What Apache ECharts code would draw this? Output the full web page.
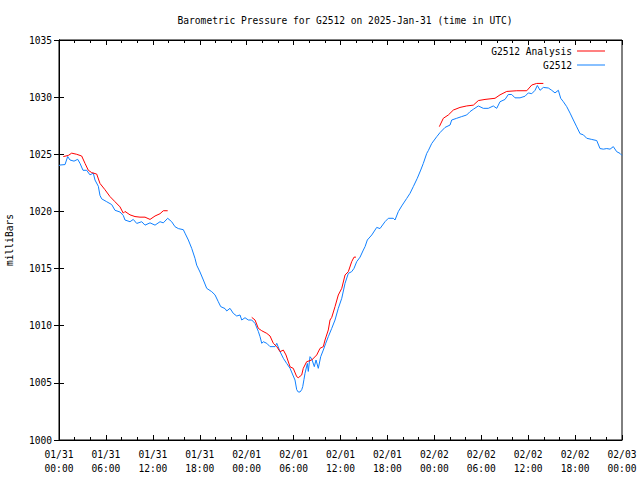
<!DOCTYPE html>
<html>
<head>
<meta charset="utf-8">
<script src="https://cdn.jsdelivr.net/npm/echarts@6/dist/echarts.min.js"></script>
<style>html,body{margin:0;padding:0;background:#fff}#c{width:640px;height:480px}</style>
</head>
<body>
<div id="c"></div>
<script>
// hours since 2025-01-31 00:00 UTC, pressure in mbar
var g2512 = [
[0,1024.0],[0.13,1024.06],[0.77,1024.1],[1.11,1024.8],[1.41,1024.5],[1.92,1024.4],[2.39,1024.56],[2.69,1024.2],
[3.07,1023.6],[3.54,1023.6],[3.96,1023.2],[4.39,1023.35],[4.60,1022.75],[5.03,1022.2],[5.24,1021.4],[5.46,1021.1],
[6.10,1020.85],[6.74,1020.6],[7.16,1020.1],[7.80,1019.95],[8.22,1019.65],[8.44,1019.25],[9.08,1019.1],[9.50,1019.3],
[9.94,1018.95],[10.58,1019.1],[11.00,1018.8],[11.64,1019.0],[12.28,1018.8],[12.92,1019.1],[13.34,1019.0],[13.90,1019.4],
[14.41,1019.1],[14.84,1018.66],[15.26,1018.5],[15.90,1018.4],[16.11,1018.1],[16.54,1017.5],[16.97,1016.77],[17.39,1015.9],
[17.61,1015.3],[18.03,1014.7],[18.46,1014.0],[18.89,1013.27],[19.53,1012.98],[19.95,1012.7],[20.37,1012.1],[20.68,1011.67],
[21.23,1011.5],[21.45,1011.29],[21.87,1011.52],[22.29,1011.08],[22.73,1010.85],[23.15,1010.94],[23.37,1010.5],[23.79,1010.7],
[24.21,1010.5],[24.65,1010.5],[25.07,1010.2],[25.49,1009.5],[25.71,1009.04],[25.93,1008.46],[26.13,1008.6],[26.57,1008.46],
[26.99,1008.17],[27.63,1008.17],[27.85,1008.46],[28.27,1007.73],[28.69,1007.15],[29.12,1006.7],[29.55,1006.27],[29.96,1005.6],
[30.18,1005.25],[30.40,1004.4],[30.60,1004.2],[30.82,1004.2],[31.04,1004.4],[31.17,1004.67],[31.33,1005.3],[31.46,1005.83],
[31.76,1006.7],[31.88,1006.0],[32.10,1007.29],[32.32,1007.1],[32.65,1006.42],[32.87,1007.0],[33.16,1006.27],[33.47,1007.29],
[33.80,1007.87],[34.11,1008.46],[34.44,1009.04],[34.88,1009.77],[35.30,1010.5],[35.72,1011.52],[36.16,1012.4],[36.58,1013.71],
[37.00,1014.58],[37.43,1014.73],[37.73,1015.02],[38.07,1015.6],[38.50,1016.0],[38.92,1016.62],[39.14,1016.92],[39.43,1017.5],
[40.00,1017.94],[40.63,1018.6],[41.05,1018.5],[41.69,1019.1],[42.12,1019.4],[42.75,1019.4],[42.97,1019.25],[43.39,1019.98],
[43.83,1020.48],[44.47,1021.14],[44.89,1021.58],[45.31,1022.17],[45.82,1022.9],[46.26,1023.62],[46.59,1024.2],[47.03,1025.08],
[47.23,1025.32],[47.67,1025.95],[48.31,1026.54],[48.73,1026.9],[49.37,1027.35],[50.01,1027.56],[50.22,1028.0],[50.86,1028.15],
[51.50,1028.3],[52.14,1028.44],[52.56,1028.73],[52.99,1028.94],[53.63,1029.23],[54.26,1029.02],[54.90,1029.02],[55.54,1029.23],
[55.98,1029.02],[56.40,1029.6],[57.04,1029.8],[57.46,1030.23],[57.90,1030.23],[58.32,1029.94],[58.96,1029.94],[59.60,1030.08],
[60.02,1030.37],[60.46,1030.3],[60.88,1030.6],[61.17,1031.02],[61.52,1030.6],[61.94,1030.85],[62.58,1030.8],[63.01,1030.6],
[63.43,1030.37],[63.86,1030.6],[64.16,1029.9],[64.50,1029.6],[64.93,1029.17],[65.36,1028.6],[65.78,1028.0],[66.21,1027.4],
[66.64,1026.8],[67.06,1026.7],[67.49,1026.4],[68.13,1026.3],[68.77,1026.2],[69.19,1025.5],[69.61,1025.45],[70.05,1025.5],
[70.47,1025.45],[70.89,1025.67],[71.32,1025.23],[71.74,1025.08],[72.0,1024.9]
];
var analysisA = [
[0.55,1024.8],[1.19,1024.9],[1.62,1025.1],[2.26,1025.0],[2.90,1024.85],[3.33,1024.2],[3.75,1023.6],[4.18,1023.4],
[4.82,1023.27],[5.24,1022.45],[5.88,1021.9],[6.52,1021.3],[7.16,1020.85],[7.80,1020.4],[8.22,1019.85],[8.44,1020.0],
[9.08,1019.7],[9.72,1019.55],[10.36,1019.5],[11.00,1019.5],[11.64,1019.3],[12.28,1019.6],[12.92,1019.8],[13.34,1020.06],[13.90,1020.06]
];
var analysisB = [
[24.65,1010.73],[25.07,1010.5],[25.49,1009.77],[25.93,1009.56],[26.57,1009.33],[26.99,1009.1],[27.41,1008.46],[27.85,1008.17],
[28.27,1007.73],[28.69,1007.87],[29.03,1007.44],[29.55,1006.4],[29.96,1006.27],[30.40,1005.54],[30.60,1005.45],[31.04,1005.69],
[31.24,1006.27],[31.67,1006.85],[32.32,1007.0],[32.96,1007.44],[33.38,1008.02],[33.80,1008.17],[34.02,1008.75],[34.44,1009.63],
[34.66,1010.5],[34.88,1010.73],[35.30,1011.67],[35.72,1012.69],[36.16,1013.27],[36.58,1014.44],[37.00,1014.73],[37.43,1015.6],
[37.73,1016.0],[37.98,1016.0]
];
var analysisC = [
[48.64,1027.42],[49.15,1028.15],[49.79,1028.44],[50.43,1028.87],[51.28,1029.1],[52.14,1029.23],[52.99,1029.3],[53.63,1029.7],
[54.48,1029.8],[55.76,1029.9],[56.40,1030.2],[57.26,1030.5],[58.54,1030.56],[59.82,1030.56],[60.46,1031.06],[61.09,1031.2],[61.94,1031.2]
];
var dateLabels = ['01/31','01/31','01/31','01/31','02/01','02/01','02/01','02/01','02/02','02/02','02/02','02/02','02/03'];
var timeLabels = ['00:00','06:00','12:00','18:00','00:00','06:00','12:00','18:00','00:00','06:00','12:00','18:00','00:00'];

var FONT = 'DejaVu Sans Mono';
var RED = '#ff0000', BLUE = '#1080ff';
var chart = echarts.init(document.getElementById('c'), null, {renderer: 'svg'});
var tickCommon = {show: true, inside: true, length: 5, lineStyle: {color: '#000', width: 1}};
var minorCommon = {show: true, splitNumber: 3, length: 3, lineStyle: {color: '#000', width: 1}};
function xAx(pos, labels) {
  return {
    type: 'value', position: pos, min: 0, max: 72, interval: 6,
    axisLine: {show: true, onZero: false, lineStyle: {color: '#000', width: 1}},
    axisTick: tickCommon, minorTick: minorCommon, splitLine: {show: false},
    axisLabel: {show: labels, margin: 7, fontFamily: FONT, fontSize: 9.6, color: '#000', lineHeight: 14,
      formatter: function (v) { var i = Math.round(v / 6); return dateLabels[i] + '\n' + timeLabels[i]; }}
  };
}
function yAx(pos, labels) {
  return {
    type: 'value', position: pos, min: 1000, max: 1035, interval: 5,
    name: labels ? 'milliBars' : '', nameLocation: 'middle', nameRotate: 90, nameGap: 45,
    nameTextStyle: {fontFamily: FONT, fontSize: 9.6, color: '#000'},
    axisLine: {show: true, lineStyle: {color: '#000', width: 1}},
    axisTick: tickCommon, splitLine: {show: false},
    axisLabel: {show: labels, margin: 7, fontFamily: FONT, fontSize: 9.6, color: '#000',
      formatter: function (v) { return String(v); }}
  };
}
function line(name, data, color) {
  return {type: 'line', name: name, data: data, xAxisIndex: 0, yAxisIndex: 0, symbol: 'none', showSymbol: false,
    lineStyle: {color: color, width: 1}, itemStyle: {color: color}, animation: false, silent: true};
}
chart.setOption({
  animation: false,
  title: {text: 'Barometric Pressure for G2512 on 2025-Jan-31 (time in UTC)', left: 340, top: 10, textAlign: 'center',
    textStyle: {fontFamily: FONT, fontSize: 9.6, fontWeight: 'normal', color: '#000'}},
  legend: [
    {data: ['G2512 Analysis'], right: 30, top: 41, orient: 'vertical', align: 'right', icon: 'rect', itemWidth: 28, itemHeight: 1,
      textStyle: {fontFamily: FONT, fontSize: 9.6, color: '#000'}, selectedMode: false},
    {data: ['G2512'], right: 30, top: 55, orient: 'vertical', align: 'right', icon: 'rect', itemWidth: 28, itemHeight: 1,
      textStyle: {fontFamily: FONT, fontSize: 9.6, color: '#000'}, selectedMode: false}
  ],
  grid: {left: 59, right: 18, top: 40, bottom: 40, show: true, borderColor: '#000', borderWidth: 1, backgroundColor: '#fff',
    containLabel: false, outerBoundsMode: 'none'},
  xAxis: [xAx('bottom', true), xAx('top', false)],
  yAxis: [yAx('left', true), yAx('right', false)],
  series: [
    line('G2512', g2512, BLUE),
    line('G2512 Analysis', analysisA, RED),
    line('G2512 Analysis', analysisB, RED),
    line('G2512 Analysis', analysisC, RED)
  ]
});
</script>
</body>
</html>
